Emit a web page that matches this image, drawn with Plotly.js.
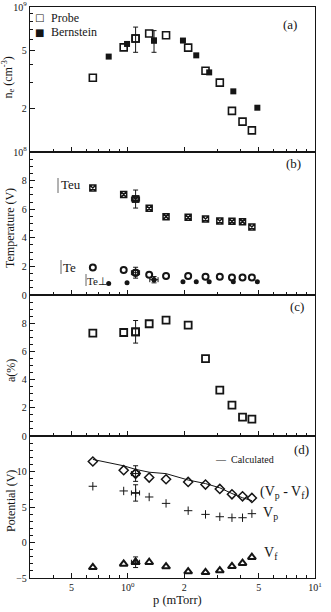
<!DOCTYPE html>
<html>
<head>
<meta charset="utf-8">
<script src="https://cdn.plot.ly/plotly-3.0.1.min.js"></script>
<style>html,body{margin:0;padding:0;background:#fff;}#chart{width:331px;height:612px;}</style>
</head>
<body>
<div id="chart"></div>
<script>
// ---------- data ----------
const pProbe = [0.65, 0.95, 1.1, 1.3, 1.6, 2.1, 2.6, 3.1, 3.6, 4.1, 4.6];      // mTorr
const pBern  = [0.79, 0.99, 1.38, 1.97, 2.32, 2.72, 3.66, 4.92];               // mTorr
const neProbe = [3.25e8, 5.27e8, 6.07e8, 6.56e8, 6.39e8, 5.25e8, 3.63e8, 3.01e8, 1.92e8, 1.62e8, 1.41e8];
const neBern = [4.55e8, 5.56e8, 5.87e8, 5.87e8, 4.64e8, 3.54e8, 2.62e8, 2.02e8];
const Teu = [7.48, 7.03, 6.71, 6.06, 5.48, 5.43, 5.31, 5.17, 5.15, 5.13, 4.76];
const Te = [1.93, 1.75, 1.56, 1.42, 1.33, 1.33, 1.28, 1.28, 1.23, 1.23, 1.23];
const TePerp = [0.81, 0.86, 1.07, 0.93, 0.93, 0.93, 0.93, 0.93];
const alphaPct = [7.30, 7.34, 7.39, 7.96, 8.22, 7.86, 5.49, 3.26, 2.19, 1.34, 1.20];
const VpVf = [11.41, 10.18, 9.71, 9.15, 8.91, 8.53, 8.16, 7.54, 6.79, 6.51, 6.27];
const VpVfCalc = [11.7, 10.8, 10.3, 9.9, 9.7, 8.8, 8.3, 7.7, 6.9, 6.3, 5.9];
const Vp = [7.92, 7.26, 6.98, 6.41, 5.51, 4.48, 3.96, 3.63, 3.49, 3.49, 4.06];
const Vf = [-3.49, -3.02, -2.78, -2.78, -3.39, -4.10, -4.20, -3.96, -3.35, -2.92, -2.07];

// error bars (one representative point per series)
const errIdxProbe = 2;   // p = 1.1 mTorr
const errIdxBern = 2;    // p = 1.38 mTorr
const neProbeErr = 1.2e8, neBernErr = 1.0e8;
const TeuErr = 0.63, TeErr = 0.38, TePerpErr = 0.22, alphaErr = 0.8;
const VpVfErr = 1.1, VpErr = 1.15, VfErr = 0.75;
const pErrProbe = 0.055, pErrBern = 0.07;

const xTickVals = [0.5, 1, 2, 5, 10];
const xTickText = ['5', '10<sup>0</sup>', '2', '5', '10<sup>1</sup>'];
const xMinorVals = [0.4, 0.6, 0.7, 0.8, 0.9, 3, 4, 6, 7, 8, 9];
const neTickVals = [1e8, 2e8, 5e8, 1e9];
const neTickText = ['10<sup>8</sup>', '2', '5', '10<sup>9</sup>'];
const neMinorVals = [3e8, 4e8, 6e8, 7e8, 8e8, 9e8];

// ---------- styling ----------
const INK = '#151515';
const SERIF = 'Liberation Serif, Times New Roman, serif';
const eb = (v) => ({type: 'constant', value: v, visible: true, color: INK, thickness: 1, width: 2.5});

const M = {
  probe: {symbol: 'square-open', size: 7, color: INK, line: {width: 1.6, color: INK}},
  bern: {symbol: 'square', size: 6, color: INK},
  teu: {symbol: 'square-x-open', size: 6, color: INK, line: {width: 1.5, color: INK}},
  te: {symbol: 'circle-open', size: 6, color: INK, line: {width: 2, color: INK}},
  tp: {symbol: 'circle', size: 5, color: INK},
  alpha: {symbol: 'square-open', size: 7, color: INK, line: {width: 1.8, color: INK}},
  vpvf: {symbol: 'diamond-open', size: 7, color: INK, line: {width: 1.5, color: INK}},
  vp: {symbol: 'cross-thin-open', size: 6, color: INK, line: {width: 1, color: INK}},
  vf: {symbol: 'triangle-up-open', size: 7, color: INK, line: {width: 2, color: INK}}
};

function series(x, y, ax, marker, name) {
  return {x: x, y: y, xaxis: 'x' + ax, yaxis: 'y' + ax, mode: 'markers', name: name, marker: marker};
}
function errPoint(x, y, i, ax, marker, ey, ex) {
  const t = {x: [x[i]], y: [y[i]], xaxis: 'x' + ax, yaxis: 'y' + ax, mode: 'markers', marker: marker, error_y: eb(ey)};
  if (ex) t.error_x = eb(ex);
  return t;
}

const traces = [
  series(pProbe, neProbe, '', M.probe, 'Probe'),
  series(pBern, neBern, '', M.bern, 'Bernstein'),
  errPoint(pProbe, neProbe, errIdxProbe, '', M.probe, neProbeErr),
  errPoint(pBern, neBern, errIdxBern, '', M.bern, neBernErr),

  series(pProbe, Teu, '2', M.teu, 'Teu'),
  series(pProbe, Te, '2', M.te, 'Te'),
  series(pBern, TePerp, '2', M.tp, 'Te⊥'),
  errPoint(pProbe, Teu, errIdxProbe, '2', M.teu, TeuErr, pErrProbe),
  errPoint(pProbe, Te, errIdxProbe, '2', M.te, TeErr, pErrProbe),
  errPoint(pBern, TePerp, errIdxBern, '2', M.tp, TePerpErr, pErrBern),

  series(pProbe, alphaPct, '3', M.alpha, 'a(%)'),
  errPoint(pProbe, alphaPct, errIdxProbe, '3', M.alpha, alphaErr),

  {x: pProbe, y: VpVfCalc, xaxis: 'x4', yaxis: 'y4', mode: 'lines', name: 'Calculated', line: {color: INK, width: 1}},
  series(pProbe, VpVf, '4', M.vpvf, '(Vp - Vf)'),
  series(pProbe, Vp, '4', M.vp, 'Vp'),
  series(pProbe, Vf, '4', M.vf, 'Vf'),
  errPoint(pProbe, VpVf, errIdxProbe, '4', M.vpvf, VpVfErr, pErrProbe),
  errPoint(pProbe, Vp, errIdxProbe, '4', M.vp, VpErr, pErrProbe),
  errPoint(pProbe, Vf, errIdxProbe, '4', M.vf, VfErr, pErrProbe)
];
traces.forEach(t => t.showlegend = false);

function xax(anchor, labels) {
  return {
    type: 'log', range: [Math.log10(0.3), 1], domain: [0, 1], anchor: anchor,
    showline: true, linecolor: INK, linewidth: 1.2, mirror: true,
    ticks: 'inside', ticklen: 5, tickwidth: 1, tickcolor: INK,
    tickmode: 'array', tickvals: xTickVals, ticktext: xTickText,
    showticklabels: labels, showgrid: false, zeroline: false,
    minor: {ticks: 'inside', ticklen: 3, tickwidth: 1, tickcolor: INK, tickmode: 'array', tickvals: xMinorVals, showgrid: false},
    tickfont: {family: SERIF, size: 10, color: INK}
  };
}
function yax(anchor, domain, extra) {
  return Object.assign({
    anchor: anchor, domain: domain,
    showline: true, linecolor: INK, linewidth: 1.2, mirror: true,
    ticks: 'inside', ticklen: 5, tickwidth: 1, tickcolor: INK,
    showgrid: false, zeroline: false,
    tickfont: {family: SERIF, size: 10, color: INK}
  }, extra);
}

const H = 571, W = 285;
const py = v => (578 - v) / H;
const px = v => (v - 30) / W;

const ann = (text, x, y, opts) => Object.assign({
  text: text, xref: 'paper', yref: 'paper', x: px(x), y: py(y),
  showarrow: false, xanchor: 'center', yanchor: 'middle',
  font: {family: SERIF, size: 12, color: INK}
}, opts || {});
const F = (size, fam) => ({family: fam || SERIF, size: size, color: INK});

const annotations = [
  ann('(a)', 290, 25, {font: F(13)}),
  ann('(b)', 293, 164, {font: F(13)}),
  ann('(c)', 297, 306, {font: F(13)}),
  ann('(d)', 301, 449, {font: F(13)}),
  ann('□', 39.5, 18, {font: F(10, 'DejaVu Sans')}),
  ann('Probe', 49, 18, {xanchor: 'left', font: F(12)}),
  ann('■', 39.5, 32, {font: F(10, 'DejaVu Sans')}),
  ann('Bernstein', 49, 32, {xanchor: 'left', font: F(12)}),
  ann('Teu', 71, 185, {font: F(13)}),
  ann('Te', 69.5, 267, {font: F(13)}),
  ann('Te⊥', 97, 281, {font: F(11)}),
  ann('—  Calculated', 213, 459, {xanchor: 'left', font: F(10)}),
  ann('(V<sub>p</sub> - V<sub>f</sub>)', 284, 492, {font: F(14)}),
  ann('V<sub>p</sub>', 261, 513, {xanchor: 'left', font: F(14)}),
  ann('V<sub>f</sub>', 262, 553, {xanchor: 'left', font: F(14)}),
  ann('n<sub>e</sub> (cm<sup>-3</sup>)', 8.5, 78, {textangle: -90, font: F(12)}),
  ann('Temperature (V)', 10, 228, {textangle: -90, font: F(12)}),
  ann('a(%)', 11, 371, {textangle: -90, font: F(12)}),
  ann('Potential (V)', 11, 501, {textangle: -90, font: F(12)}),
  ann('p (mTorr)', 177, 600, {font: F(12.5)})
];

const bar = (x, y0, y1) => ({type: 'line', xref: 'paper', yref: 'paper',
  x0: px(x), x1: px(x), y0: py(y0), y1: py(y1), line: {color: '#666', width: 1}});
const shapes = [bar(58, 178, 193), bar(61, 260, 274), bar(86, 274, 286)];

const layout = {
  width: 331, height: 612,
  margin: {l: 30, r: 16, t: 7, b: 34, pad: 0},
  paper_bgcolor: '#fff', plot_bgcolor: '#fff',
  showlegend: false,
  font: {family: SERIF, color: INK},
  xaxis: xax('y', false),
  xaxis2: xax('y2', false),
  xaxis3: xax('y3', false),
  xaxis4: xax('y4', true),
  yaxis: yax('x', [py(152), 1], {type: 'log', range: [8, 9], tickmode: 'array', tickvals: neTickVals, ticktext: neTickText,
    minor: {ticks: 'inside', ticklen: 3, tickcolor: INK, tickmode: 'array', tickvals: neMinorVals, showgrid: false}}),
  yaxis2: yax('x2', [py(295), py(152)], {range: [0, 10], tickmode: 'array', tickvals: [0, 2, 4, 6, 8],
    minor: {ticks: 'inside', ticklen: 3, tickcolor: INK, dtick: 0.5, showgrid: false}}),
  yaxis3: yax('x3', [py(436), py(295)], {range: [0, 10], tickmode: 'array', tickvals: [0, 2, 4, 6, 8],
    minor: {ticks: 'inside', ticklen: 3, tickcolor: INK, dtick: 0.5, showgrid: false}}),
  yaxis4: yax('x4', [0, py(436)], {range: [-5, 15], tickmode: 'array', tickvals: [-5, 0, 5, 10],
    minor: {ticks: 'inside', ticklen: 3, tickcolor: INK, dtick: 1, showgrid: false}}),
  annotations: annotations,
  shapes: shapes
};

Plotly.newPlot('chart', traces, layout, {displayModeBar: false, staticPlot: true});
</script>
</body>
</html>
